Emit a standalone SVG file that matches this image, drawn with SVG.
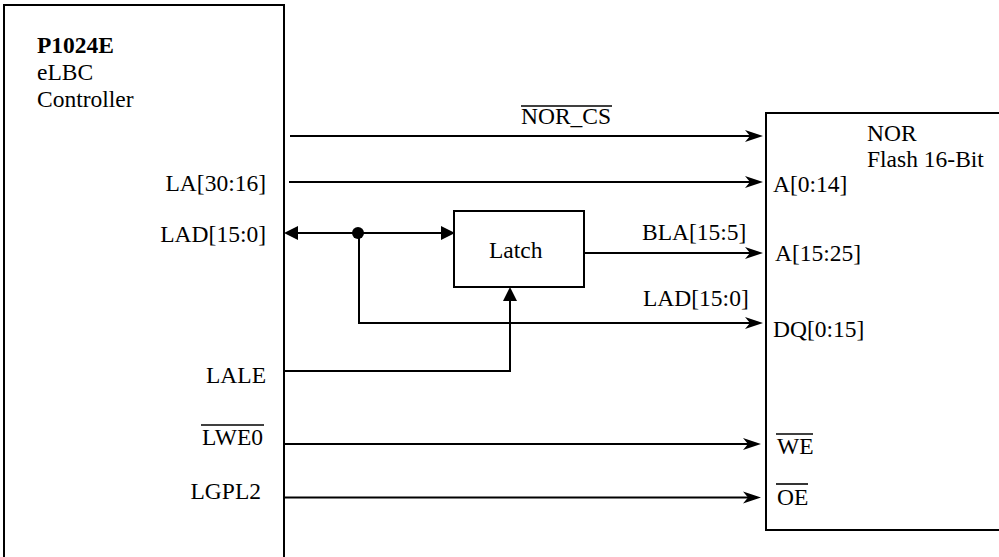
<svg xmlns="http://www.w3.org/2000/svg" width="999" height="557" viewBox="0 0 999 557">
<style>
.ln{stroke:#000;stroke-width:2;fill:none}
.box{stroke:#000;stroke-width:2;fill:#fff}
.ov{stroke:#000;stroke-width:1.6}
text{font-family:"Liberation Serif","DejaVu Serif Condensed","DejaVu Serif",serif;font-size:23.5px;font-weight:400;font-style:normal;fill:#000}
.r{text-anchor:end}
.b{font-weight:700}
</style>
<defs>
<marker id="a" markerUnits="userSpaceOnUse" markerWidth="30" markerHeight="30" refX="0" refY="0" orient="auto" overflow="visible"><path d="M4,0 L-14,-6 L-9,0 L-14,6 Z" fill="#000"/></marker>
<marker id="t" markerUnits="userSpaceOnUse" markerWidth="30" markerHeight="30" refX="0" refY="0" orient="auto-start-reverse" overflow="visible"><path d="M4,0 L-10,-7 L-10,7 Z" fill="#000"/></marker>
</defs>
<rect width="999" height="557" fill="#fff"/>
<g id="controller">
<path class="ln" d="M4,570 V5 H284 V570"/>
<text x="37" y="53" class="b">P1024E</text>
<text x="37" y="80">eLBC</text>
<text x="37" y="107">Controller</text>
<text x="266" y="191" class="r">LA[30:16]</text>
<text x="266" y="242" class="r">LAD[15:0]</text>
<text x="266" y="383" class="r">LALE</text>
<text x="263" y="445" class="r">LWE0</text>
<line class="ov" x1="201" y1="425" x2="264" y2="425"/>
<text x="261" y="499" class="r">LGPL2</text>
</g>
<g id="nor-flash">
<rect class="box" x="766" y="113" width="245" height="417"/>
<text x="867" y="141">NOR</text>
<text x="867" y="167">Flash 16-Bit</text>
<text x="773" y="192">A[0:14]</text>
<text x="775" y="261">A[15:25]</text>
<text x="773" y="337">DQ[0:15]</text>
<text x="777" y="454">WE</text>
<line class="ov" x1="776" y1="434" x2="813" y2="434"/>
<text x="777" y="505">OE</text>
<line class="ov" x1="776" y1="484" x2="808" y2="484"/>
</g>
<g id="latch">
<rect class="box" x="454" y="211" width="130" height="76"/>
<text x="489" y="258">Latch</text>
</g>
<g id="connectors">
<path class="ln" d="M290,136 H759" marker-end="url(#a)"/>
<path class="ln" d="M289,182 H759" marker-end="url(#a)"/>
<path class="ln" d="M288,233 H451" marker-start="url(#t)" marker-end="url(#t)"/>
<circle cx="358" cy="233" r="6" fill="#000"/>
<path class="ln" d="M359,233 V323 H759" marker-end="url(#a)"/>
<path class="ln" d="M584,253 H759" marker-end="url(#a)"/>
<path class="ln" d="M284,371 H510 V291" marker-end="url(#t)"/>
<path class="ln" d="M284,444 H757" marker-end="url(#a)"/>
<path class="ln" d="M284,497.5 H757" marker-end="url(#a)"/>
</g>
<g id="labels">
<text x="521" y="124">NOR_CS</text>
<line class="ov" x1="521" y1="106" x2="612" y2="106"/>
<text x="642" y="240">BLA[15:5]</text>
<text x="643" y="306">LAD[15:0]</text>
</g>
</svg>
